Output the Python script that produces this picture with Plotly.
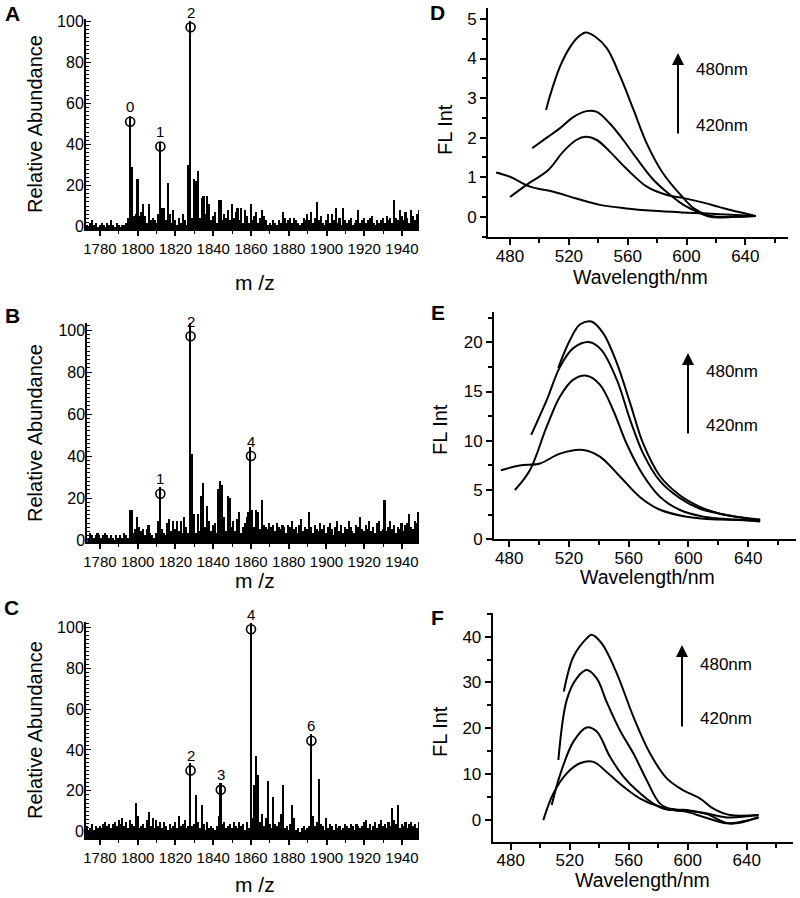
import plotly.graph_objects as go

W, H = 800, 898

# ---------------- mass spectra (one value per m/z, 1773 ... 1950) ----------------
MZ_START = 1773
ABUND_A = [
    1, 0, 2, 3, 1, 2, 0, 1,
    2, 1, 0, 2, 1, 3, 1, 0, 2, 1,
    0, 1, 1, 2, 4, 54, 29, 5, 6, 23,
    5, 7, 11, 5, 2, 11, 3, 4, 3, 2,
    6, 41, 9, 9, 3, 21, 6, 2, 8, 3,
    1, 4, 2, 6, 3, 1, 30, 100, 4, 23,
    22, 27, 4, 14, 15, 6, 15, 11, 3, 5,
    7, 2, 13, 13, 3, 6, 4, 8, 3, 11,
    4, 7, 9, 3, 9, 2, 8, 5, 2, 11,
    3, 5, 7, 2, 4, 8, 5, 3, 1, 2,
    1, 3, 2, 1, 3, 2, 7, 4, 2, 3,
    4, 2, 4, 3, 2, 1, 2, 4, 3, 6,
    3, 7, 2, 4, 12, 3, 5, 2, 1, 3,
    6, 2, 6, 3, 9, 2, 4, 1, 9, 3,
    2, 3, 4, 1, 2, 3, 8, 2, 3, 4,
    2, 3, 4, 5, 2, 1, 3, 2, 3, 4,
    2, 5, 3, 4, 2, 13, 4, 3, 8, 5,
    3, 7, 4, 2, 8, 5, 3, 6, 8, 4,
]
ABUND_B = [
    2, 1, 3, 2, 1, 2, 3, 2,
    1, 2, 3, 2, 1, 2, 1, 0, 2, 1,
    2, 1, 3, 2, 1, 14, 14, 3, 5, 11,
    6, 4, 5, 2, 5, 7, 3, 2, 1, 3,
    9, 25, 5, 3, 2, 8, 10, 4, 9, 5,
    9, 4, 9, 3, 11, 6, 3, 103, 41, 12,
    3, 12, 4, 21, 27, 6, 16, 9, 4, 7,
    8, 3, 24, 28, 26, 11, 4, 21, 20, 6,
    9, 4, 10, 13, 3, 6, 8, 11, 13, 44,
    14, 6, 14, 13, 5, 19, 7, 6, 5, 8,
    6, 7, 4, 8, 6, 5, 7, 6, 3, 7,
    6, 9, 5, 6, 3, 7, 10, 4, 6, 5,
    13, 6, 3, 7, 5, 4, 8, 5, 7, 3,
    6, 8, 5, 2, 6, 9, 4, 7, 3, 6,
    5, 9, 6, 4, 3, 7, 6, 11, 5, 4,
    7, 5, 9, 4, 6, 3, 8, 9, 4, 5,
    19, 4, 6, 9, 5, 7, 3, 6, 5, 8,
    4, 7, 8, 12, 6, 5, 9, 8, 13, 6,
]
ABUND_C = [
    3, 1, 2, 4, 1, 3, 2, 3,
    2, 4, 5, 3, 4, 2, 4, 5, 3, 6,
    4, 7, 3, 5, 2, 6, 4, 3, 14, 8,
    2, 3, 4, 2, 6, 10, 3, 7, 2, 6,
    3, 5, 2, 5, 3, 1, 4, 2, 3, 5,
    2, 8, 3, 4, 6, 2, 3, 34, 3, 4,
    18, 5, 2, 13, 4, 1, 5, 2, 3, 2,
    1, 3, 8, 24, 4, 5, 2, 3, 4, 2,
    5, 3, 2, 5, 3, 4, 1, 5, 2, 102,
    7, 23, 37, 28, 5, 9, 3, 7, 25, 4,
    2, 17, 4, 3, 5, 9, 23, 2, 3, 1,
    4, 13, 7, 1, 2, 0, 2, 3, 1, 2,
    3, 48, 8, 3, 5, 26, 4, 3, 1, 7,
    2, 4, 3, 1, 4, 2, 3, 1, 2, 4,
    3, 2, 4, 3, 1, 4, 3, 2, 3, 5,
    6, 2, 4, 1, 3, 5, 2, 4, 6, 3,
    4, 2, 5, 3, 12, 6, 4, 13, 2, 4,
    3, 5, 2, 4, 5, 3, 4, 2, 5, 3,
]

# labelled peaks: position, circle height, label
PEAK_MZ_A = [1796, 1812, 1828]
PEAK_Y_A = [51, 39, 97]
PEAK_LBL_A = ["0", "1", "2"]
PEAK_MZ_B = [1812, 1828, 1860]
PEAK_Y_B = [22, 97, 40]
PEAK_LBL_B = ["1", "2", "4"]
PEAK_MZ_C = [1828, 1844, 1860, 1892]
PEAK_Y_C = [30, 20.5, 99, 44.5]
PEAK_LBL_C = ["2", "3", "4", "6"]

# ---------------- fluorescence spectra ----------------
D_WL = [
    [504.5, 507, 514, 521, 526.5, 531.5, 538, 546, 555, 564, 573, 584, 596, 605, 614, 621, 635, 647],
    [495, 505, 514, 523, 532, 539, 548, 557, 566, 577.6, 589, 598, 607, 616, 623, 635, 647],
    [480, 491, 506, 516, 525, 531.5, 539, 548, 559, 573, 586.6, 598, 610, 622, 634, 647],
    [470.5, 480, 493.6, 509.5, 525, 541, 559, 577.6, 596, 614, 630, 647],
]
D_FL = [
    [2.7, 3.04, 3.8, 4.3, 4.55, 4.66, 4.55, 4.25, 3.54, 2.7, 1.85, 1.1, 0.55, 0.21, 0.04, 0.0, 0.0, 0.02],
    [1.73, 2.0, 2.24, 2.52, 2.67, 2.65, 2.35, 1.94, 1.48, 0.93, 0.55, 0.3, 0.13, 0.0, -0.02, 0.0, 0.02],
    [0.5, 0.8, 1.18, 1.64, 1.94, 2.02, 1.94, 1.64, 1.22, 0.76, 0.55, 0.47, 0.37, 0.25, 0.13, 0.02],
    [1.12, 1.01, 0.76, 0.63, 0.46, 0.3, 0.21, 0.15, 0.11, 0.08, 0.05, 0.02],
]
E_WL = [
    [512.8, 520.6, 527.3, 535, 543, 552, 561, 569.7, 581, 594, 607.7, 621, 632, 648],
    [494.7, 505, 514, 522.9, 534, 541.8, 552, 561, 569.7, 581, 594, 607.7, 621, 648],
    [483.8, 493.8, 505, 514, 522.9, 531.8, 540.7, 549.6, 558.6, 569.7, 581, 594, 610, 632, 648],
    [474.4, 487, 500.6, 514, 529.5, 540.7, 554, 567.4, 581, 598.7, 621, 648],
]
E_FL = [
    [17.4, 20.2, 21.8, 22.1, 20.9, 17.9, 13.8, 9.7, 6.4, 4.5, 3.3, 2.6, 2.3, 2.0],
    [10.6, 14.1, 17.5, 19.4, 20.0, 19.2, 16.2, 12.1, 8.7, 5.9, 4.2, 3.1, 2.6, 1.9],
    [5.0, 7.0, 11.4, 14.5, 16.2, 16.6, 15.7, 13.1, 9.7, 6.5, 4.3, 3.0, 2.3, 2.0, 1.8],
    [7.0, 7.5, 7.7, 8.7, 9.07, 8.4, 6.4, 4.3, 3.0, 2.3, 2.0, 1.9],
]
F_WL = [
    [516, 522.5, 531.5, 534.9, 541.7, 551.9, 563.2, 574.5, 585.8, 597, 608.4, 617.4, 628.7, 648],
    [512.3, 518, 524.7, 531.5, 538.3, 545, 554, 563.2, 572.2, 581.2, 590.3, 599.3, 610.6, 626.4, 635.5, 648],
    [507.8, 513.4, 522.5, 531.5, 538.3, 547.3, 556.4, 565.4, 576.7, 585.8, 599.3, 612.9, 626.4, 635.5, 648],
    [502.1, 508.9, 518, 527, 536, 545, 556.4, 567.7, 581.2, 594.8, 610.6, 626.4, 648],
]
F_FL = [
    [28, 35.6, 39.6, 40.4, 38.5, 32, 22.5, 14.5, 9.1, 6.5, 4.7, 2.5, 1.1, 1.1],
    [13.1, 26.2, 30.9, 32.7, 30.9, 25.8, 19.6, 14.5, 8.7, 3.6, 2.2, 1.8, 0.7, -0.7, -0.6, 0.7],
    [3.3, 9.8, 17.1, 20.2, 19.3, 13.8, 9.5, 6.5, 3.6, 2.3, 2.2, 1.3, -0.6, -0.4, 0.5],
    [0, 5.8, 10.2, 12.4, 12.7, 10.5, 7.3, 4.7, 2.9, 2.2, 1.6, 0.6, 1.1],
]

# ---------------- layout geometry (pixels) ----------------
def xdom(a, b):
    return [a / W, b / W]

def ydom(top, bottom):
    return [1 - bottom / H, 1 - top / H]

def px(x):
    return x / W

def py(y):
    return 1 - y / H

NARROW = "Liberation Sans Narrow, Arial Narrow, Liberation Sans, Arial, sans-serif"
ARIAL = "Liberation Sans, Arial, sans-serif"

MS_PANELS = [
    dict(vals=ABUND_A, pmz=PEAK_MZ_A, py=PEAK_Y_A, pl=PEAK_LBL_A,
         xd=xdom(86, 419), yd=ydom(19, 229.3), xr=[1772.6, 1949], yr=[-1.3, 101]),
    dict(vals=ABUND_B, pmz=PEAK_MZ_B, py=PEAK_Y_B, pl=PEAK_LBL_B,
         xd=xdom(87.3, 419), yd=ydom(323.3, 542.3), xr=[1773.3, 1949], yr=[-1.1, 103.2]),
    dict(vals=ABUND_C, pmz=PEAK_MZ_C, py=PEAK_Y_C, pl=PEAK_LBL_C,
         xd=xdom(86, 419), yd=ydom(621.7, 838.3), xr=[1772.6, 1949], yr=[-3.2, 102.7]),
]
FL_PANELS = [
    dict(wl=D_WL, fl=D_FL, xd=xdom(488, 788), yd=ydom(8.3, 237.3), xr=[465, 669],
         yr=[-0.52, 5.27], dt=1, mdt=0.5),
    dict(wl=E_WL, fl=E_FL, xd=xdom(494, 796), yd=ydom(311.7, 539.3), xr=[469.8, 672],
         yr=[0, 23.1], dt=5, mdt=2.5),
    dict(wl=F_WL, fl=F_FL, xd=xdom(492.7, 792.5), yd=ydom(612.7, 841.7), xr=[467.8, 671],
         yr=[-4.7, 45.2], dt=10, mdt=5),
]

fig = go.Figure()
layout = dict(width=W, height=H,
              margin=dict(l=0, r=0, t=0, b=0, pad=0, autoexpand=False),
              paper_bgcolor="white", plot_bgcolor="white", showlegend=False,
              bargap=0, annotations=[])
ann = layout["annotations"]

idx = 1
for p in MS_PANELS:
    xa = "x" if idx == 1 else f"x{idx}"
    ya = "y" if idx == 1 else f"y{idx}"
    ymin = p["yr"][0]
    mz = [MZ_START + i for i in range(len(p["vals"]))]
    fig.add_trace(go.Bar(x=mz, y=[v - ymin for v in p["vals"]], base=ymin, width=0.85,
                         marker=dict(color="black", line=dict(width=0)),
                         xaxis=xa, yaxis=ya, hoverinfo="skip"))
    fig.add_trace(go.Scatter(x=p["pmz"], y=p["py"], mode="markers",
                             marker=dict(symbol="circle-open", size=9, color="black",
                                         line=dict(width=1.6, color="black")),
                             xaxis=xa, yaxis=ya))
    for m, yv, t in zip(p["pmz"], p["py"], p["pl"]):
        ann.append(dict(x=m, y=yv, xref=xa, yref=ya, text=t, showarrow=False,
                        yshift=15, font=dict(family=NARROW, size=15, color="black")))
    layout["xaxis" if idx == 1 else f"xaxis{idx}"] = dict(
        domain=p["xd"], range=p["xr"], anchor=ya, automargin=False, showline=True,
        linecolor="black", linewidth=2, showgrid=False, zeroline=False, tick0=1780, dtick=20,
        ticks="outside", ticklen=5, tickwidth=1.5, tickcolor="black", tickangle=0,
        minor=dict(dtick=10, ticks="outside", ticklen=3, tickwidth=1, tickcolor="black"),
        tickfont=dict(family=NARROW, size=15, color="black"))
    layout["yaxis" if idx == 1 else f"yaxis{idx}"] = dict(
        domain=p["yd"], range=p["yr"], anchor=xa, automargin=False, showline=True,
        linecolor="black", linewidth=2, showgrid=False, zeroline=False, tick0=0, dtick=20,
        ticks="inside", ticklen=5, tickwidth=1.2, tickcolor="black", ticklabelstandoff=-3,
        minor=dict(dtick=2, ticks="inside", ticklen=3, tickwidth=1, tickcolor="black"),
        tickfont=dict(family=NARROW, size=16, color="black"))
    idx += 1

for p in FL_PANELS:
    xa = f"x{idx}"
    ya = f"y{idx}"
    for wl, fl in zip(p["wl"], p["fl"]):
        fig.add_trace(go.Scatter(x=wl, y=fl, mode="lines",
                                 line=dict(color="black", width=2, shape="spline", smoothing=1),
                                 xaxis=xa, yaxis=ya, hoverinfo="skip"))
    layout[f"xaxis{idx}"] = dict(
        domain=p["xd"], range=p["xr"], anchor=ya, automargin=False, showline=True,
        linecolor="black", linewidth=2, showgrid=False, zeroline=False, tick0=480, dtick=40,
        ticks="outside", ticklen=6, tickwidth=1.5, tickcolor="black", tickangle=0,
        ticklabelstandoff=-4,
        minor=dict(dtick=20, ticks="outside", ticklen=4, tickwidth=1.5, tickcolor="black"),
        tickfont=dict(family=ARIAL, size=17, color="black"))
    layout[f"yaxis{idx}"] = dict(
        domain=p["yd"], range=p["yr"], anchor=xa, automargin=False, showline=True,
        linecolor="black", linewidth=2, showgrid=False, zeroline=False, tick0=0, dtick=p["dt"],
        ticks="outside", ticklen=6, tickwidth=1.5, tickcolor="black",
        minor=dict(dtick=p["mdt"], ticks="outside", ticklen=4, tickwidth=1.5, tickcolor="black"),
        tickfont=dict(family=ARIAL, size=17, color="black"))
    idx += 1

# ---------------- text: panel letters, axis titles, arrows ----------------
def text(x, y, t, family, size, angle=0, bold=False):
    ann.append(dict(x=px(x), y=py(y), xref="paper", yref="paper", showarrow=False,
                    text=f"<b>{t}</b>" if bold else t, textangle=angle,
                    xanchor="center", yanchor="middle",
                    font=dict(family=family, size=size, color="black")))

for (x, y, t) in [(12, 14, "A"), (12, 316, "B"), (11, 607, "C"),
                  (437, 13, "D"), (438, 312, "E"), (437, 617, "F")]:
    text(x, y, t, ARIAL, 21, bold=True)

for yc in [124, 433, 730]:
    text(35, yc, "Relative Abundance", ARIAL, 20, angle=-90)
for yc in [283, 580, 884]:
    text(255, yc, "m /z", ARIAL, 21)
for (x, y) in [(640, 277), (647, 577), (642, 880)]:
    text(x, y, "Wavelength/nm", ARIAL, 19.5)
for (x, y) in [(445, 130), (440, 430), (440, 732)]:
    text(x, y, "FL Int", ARIAL, 20, angle=-90)

for (ax_, top, bot, t1, t2) in [(678, 53, 135, 70, 126), (688, 353, 435, 371, 425),
                                (682, 645, 728, 664, 718)]:
    ann.append(dict(x=px(ax_), y=py(top), xref="paper", yref="paper",
                    ax=0, ay=bot - top, axref="pixel", ayref="pixel",
                    showarrow=True, arrowhead=2, arrowsize=1.2, arrowwidth=2,
                    arrowcolor="black", text=""))
    text(ax_ + 44, t1, "480nm", ARIAL, 17)
    text(ax_ + 44, t2, "420nm", ARIAL, 17)

fig.update_layout(**layout)
fig.write_html("out.html", config={"displayModeBar": False},
               post_script="document.body.style.margin='0';document.body.style.padding='0';")
